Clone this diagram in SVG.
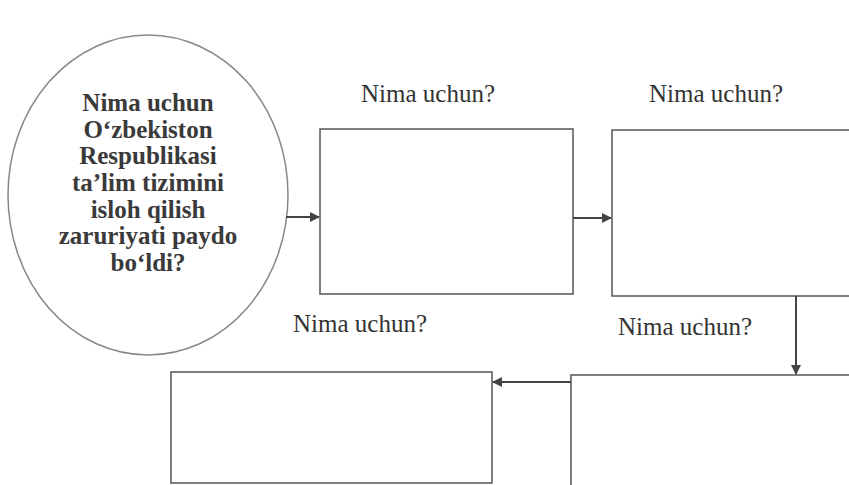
<svg xmlns="http://www.w3.org/2000/svg" width="849" height="485" viewBox="0 0 849 485">
<style>
.box{fill:none;stroke:#555;stroke-width:1.5}
.conn{fill:none;stroke:#444;stroke-width:2}
.lbl{font-family:"Liberation Serif","Times New Roman","DejaVu Serif",serif;font-size:25px;fill:#333;text-anchor:middle}
.q{font-family:"Liberation Serif","Times New Roman","DejaVu Serif",serif;font-size:25px;font-weight:bold;fill:#3a3a3a;text-anchor:middle}
</style>
<defs>
<marker id="ah" markerWidth="10" markerHeight="10" refX="9" refY="5" orient="auto" markerUnits="userSpaceOnUse">
<path d="M0,0 L10,5 L0,10 Z" fill="#444"/>
</marker>
</defs>
<rect width="849" height="485" fill="#fff"/>
<g id="question">
<ellipse cx="148" cy="195" rx="140" ry="160" fill="none" stroke="#888" stroke-width="1.5"/>
<text class="q" font-family="Liberation Serif, serif"><tspan x="148" y="111">Nima uchun</tspan><tspan x="148" y="138">O‘zbekiston</tspan><tspan x="148" y="164">Respublikasi</tspan><tspan x="148" y="191">ta’lim tizimini</tspan><tspan x="148" y="218">isloh qilish</tspan><tspan x="148" y="244">zaruriyati paydo</tspan><tspan x="148" y="271">bo‘ldi?</tspan></text>
</g>
<g id="box1">
<rect class="box" x="320" y="129" width="253" height="165"/>
<text class="lbl" x="428" y="102">Nima uchun?</text>
</g>
<g id="box2">
<rect class="box" x="612" y="130" width="245" height="166"/>
<text class="lbl" x="716" y="102">Nima uchun?</text>
</g>
<g id="box3">
<rect class="box" x="571" y="375" width="290" height="120"/>
<text class="lbl" x="685" y="335">Nima uchun?</text>
</g>
<g id="box4">
<rect class="box" x="171" y="372" width="321" height="111"/>
<text class="lbl" x="360" y="332">Nima uchun?</text>
</g>
<g id="connectors">
<line class="conn" x1="286" y1="217" x2="319" y2="217" marker-end="url(#ah)"/>
<line class="conn" x1="573" y1="218" x2="611" y2="218" marker-end="url(#ah)"/>
<line class="conn" x1="796" y1="296" x2="796" y2="374" marker-end="url(#ah)"/>
<line class="conn" x1="571" y1="382" x2="493" y2="382" marker-end="url(#ah)"/>
</g>
</svg>
